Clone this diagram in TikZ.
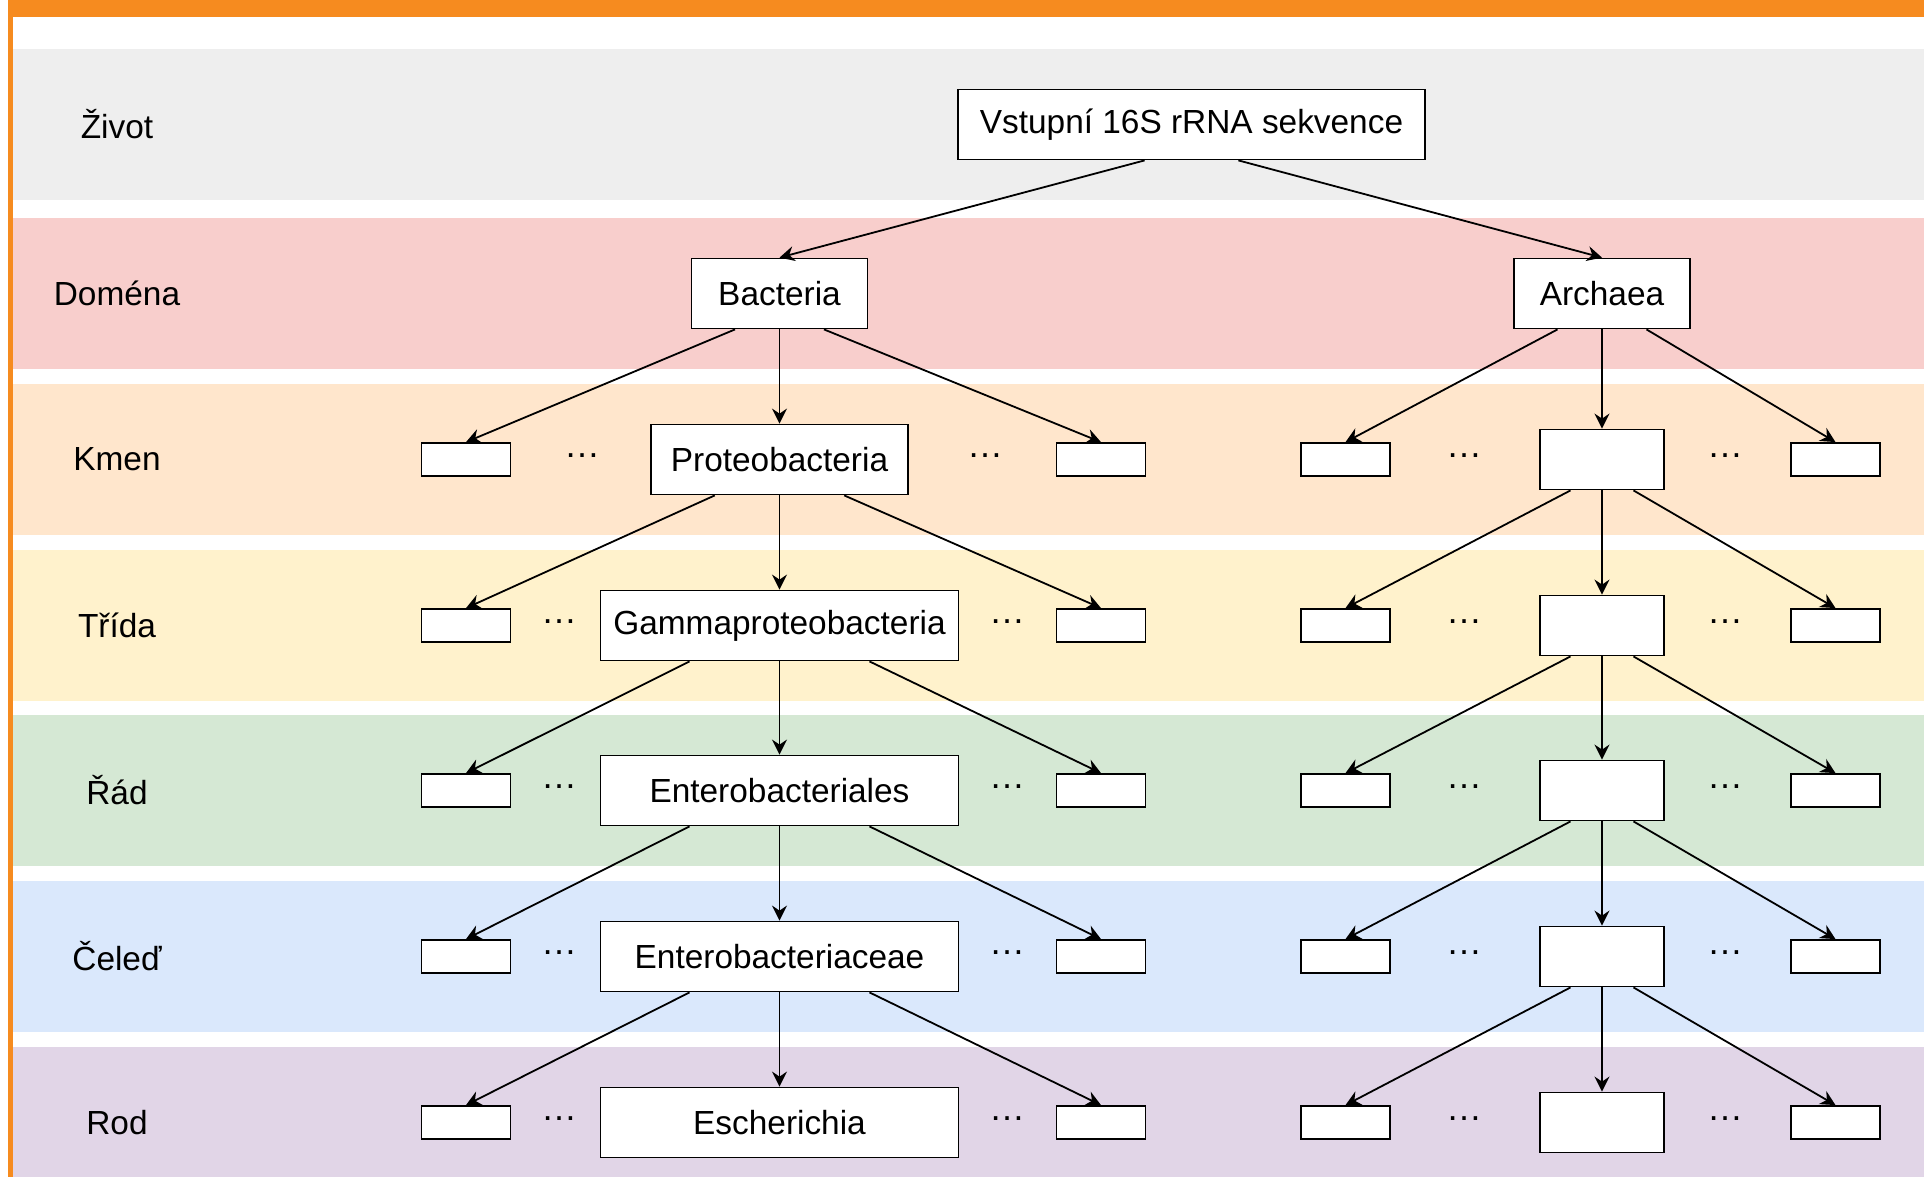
\documentclass[tikz,border=0pt]{standalone}
\usepackage{fontspec}
\setmainfont{Liberation Sans}
\usepackage{xcolor}
\usetikzlibrary{arrows.meta, calc, positioning}

\definecolor{frameorange}{HTML}{F68B1F}
\definecolor{bandgray}{HTML}{EEEEEE}
\definecolor{bandpink}{HTML}{F8CECC}
\definecolor{bandorange}{HTML}{FFE6CC}
\definecolor{bandyellow}{HTML}{FFF2CC}
\definecolor{bandgreen}{HTML}{D5E8D4}
\definecolor{bandblue}{HTML}{DAE8FC}
\definecolor{bandpurple}{HTML}{E1D5E7}

\begin{document}
\begin{tikzpicture}[x=0.5pt, y=-0.5pt, font=\fontsize{16.7}{20}\selectfont]
        % Styles
        \tikzstyle{block} = [rectangle, draw, fill=white, line width=0.9pt, minimum height=35pt, inner sep=0pt]
        \tikzstyle{leaf} = [block, minimum width=44.5pt, minimum height=16.5pt]
        \tikzstyle{hub} = [block, minimum width=62pt, minimum height=30pt]
        \tikzstyle{rank} = [anchor=center]
        \tikzstyle{gap} = [anchor=base, inner sep=0pt, yshift=1.25pt, font=\fontsize{18}{20}\selectfont]
        \tikzstyle{line} = [draw, line width=0.9pt, -{Stealth[length=7.5pt, width=7.5pt, inset=2.5pt]}]

        \useasboundingbox (0,0) rectangle (1924,1177);

        % Background
        \fill [frameorange] (8,0) rectangle (1924,17);
        \fill [frameorange] (8,0) rectangle (13,1177);
        \fill [bandgray] (13,49) rectangle (1924,200);
        \fill [bandpink] (13,218) rectangle (1924,369);
        \fill [bandorange] (13,384) rectangle (1924,535);
        \fill [bandyellow] (13,550) rectangle (1924,701);
        \fill [bandgreen] (13,715) rectangle (1924,866);
        \fill [bandblue] (13,881) rectangle (1924,1032);
        \fill [bandpurple] (13,1047) rectangle (1924,1177);

        % Ranks
        \node [rank] (lzivot) at (117,124.5) {Život};
        \node [rank] (ldomena) at (117,293.5) {Doména};
        \node [rank] (lkmen) at (117,459.5) {Kmen};
        \node [rank] (ltrida) at (117,625.5) {Třída};
        \node [rank] (lrad) at (117,790.5) {Řád};
        \node [rank] (lceled) at (117,956.5) {Čeleď};
        \node [rank] (lrod) at (117,1122.5) {Rod};

        % Nodes
        \node [block, minimum width=233.5pt] (input) at (1191.5,124.5) {Vstupní 16S rRNA sekvence};
        \node [block, minimum width=88pt] (bact) at (779.5,293.5) {Bacteria};
        \node [block, minimum width=88pt] (arch) at (1602,293.5) {Archaea};

        % Kmen
        \node [block, minimum width=128.5pt] (kmenB) at (779.5,459.5) {Proteobacteria};
        \node [leaf] (kmenBL) at (466,459.5) {};
        \node [leaf] (kmenBR) at (1101,459.5) {};
        \node [hub] (kmenA) at (1602,459.5) {};
        \node [leaf] (kmenAL) at (1345.5,459.5) {};
        \node [leaf] (kmenAR) at (1835.5,459.5) {};
        \node [gap] (kmenD1) at (582,459.5) {…};
        \node [gap] (kmenD2) at (985,459.5) {…};
        \node [gap] (kmenD3) at (1464,459.5) {…};
        \node [gap] (kmenD4) at (1725,459.5) {…};

        % Trida
        \node [block, minimum width=179pt] (tridaB) at (779.5,625.5) {Gammaproteobacteria};
        \node [leaf] (tridaBL) at (466,625.5) {};
        \node [leaf] (tridaBR) at (1101,625.5) {};
        \node [hub] (tridaA) at (1602,625.5) {};
        \node [leaf] (tridaAL) at (1345.5,625.5) {};
        \node [leaf] (tridaAR) at (1835.5,625.5) {};
        \node [gap] (tridaD1) at (559,625.5) {…};
        \node [gap] (tridaD2) at (1007,625.5) {…};
        \node [gap] (tridaD3) at (1464,625.5) {…};
        \node [gap] (tridaD4) at (1725,625.5) {…};

        % Rad
        \node [block, minimum width=179pt] (radB) at (779.5,790.5) {Enterobacteriales};
        \node [leaf] (radBL) at (466,790.5) {};
        \node [leaf] (radBR) at (1101,790.5) {};
        \node [hub] (radA) at (1602,790.5) {};
        \node [leaf] (radAL) at (1345.5,790.5) {};
        \node [leaf] (radAR) at (1835.5,790.5) {};
        \node [gap] (radD1) at (559,790.5) {…};
        \node [gap] (radD2) at (1007,790.5) {…};
        \node [gap] (radD3) at (1464,790.5) {…};
        \node [gap] (radD4) at (1725,790.5) {…};

        % Celed
        \node [block, minimum width=179pt] (celedB) at (779.5,956.5) {Enterobacteriaceae};
        \node [leaf] (celedBL) at (466,956.5) {};
        \node [leaf] (celedBR) at (1101,956.5) {};
        \node [hub] (celedA) at (1602,956.5) {};
        \node [leaf] (celedAL) at (1345.5,956.5) {};
        \node [leaf] (celedAR) at (1835.5,956.5) {};
        \node [gap] (celedD1) at (559,956.5) {…};
        \node [gap] (celedD2) at (1007,956.5) {…};
        \node [gap] (celedD3) at (1464,956.5) {…};
        \node [gap] (celedD4) at (1725,956.5) {…};

        % Rod
        \node [block, minimum width=179pt] (rodB) at (779.5,1122.5) {Escherichia};
        \node [leaf] (rodBL) at (466,1122.5) {};
        \node [leaf] (rodBR) at (1101,1122.5) {};
        \node [hub] (rodA) at (1602,1122.5) {};
        \node [leaf] (rodAL) at (1345.5,1122.5) {};
        \node [leaf] (rodAR) at (1835.5,1122.5) {};
        \node [gap] (rodD1) at (559,1122.5) {…};
        \node [gap] (rodD2) at (1007,1122.5) {…};
        \node [gap] (rodD3) at (1464,1122.5) {…};
        \node [gap] (rodD4) at (1725,1122.5) {…};

        % Paths
        \path [line] ($(input.south west)!.4!(input.south east)$) -- (bact.north);
        \path [line] ($(input.south west)!.6!(input.south east)$) -- (arch.north);

        \path [line] ($(bact.south west)!.25!(bact.south east)$) -- (kmenBL.north);
        \path [line] (bact) -- (kmenB);
        \path [line] ($(bact.south west)!.75!(bact.south east)$) -- (kmenBR.north);
        \path [line] ($(kmenB.south west)!.25!(kmenB.south east)$) -- (tridaBL.north);
        \path [line] (kmenB) -- (tridaB);
        \path [line] ($(kmenB.south west)!.75!(kmenB.south east)$) -- (tridaBR.north);
        \path [line] ($(tridaB.south west)!.25!(tridaB.south east)$) -- (radBL.north);
        \path [line] (tridaB) -- (radB);
        \path [line] ($(tridaB.south west)!.75!(tridaB.south east)$) -- (radBR.north);
        \path [line] ($(radB.south west)!.25!(radB.south east)$) -- (celedBL.north);
        \path [line] (radB) -- (celedB);
        \path [line] ($(radB.south west)!.75!(radB.south east)$) -- (celedBR.north);
        \path [line] ($(celedB.south west)!.25!(celedB.south east)$) -- (rodBL.north);
        \path [line] (celedB) -- (rodB);
        \path [line] ($(celedB.south west)!.75!(celedB.south east)$) -- (rodBR.north);

        \path [line] ($(arch.south west)!.25!(arch.south east)$) -- (kmenAL.north);
        \path [line] (arch) -- (kmenA);
        \path [line] ($(arch.south west)!.75!(arch.south east)$) -- (kmenAR.north);
        \path [line] ($(kmenA.south west)!.25!(kmenA.south east)$) -- (tridaAL.north);
        \path [line] (kmenA) -- (tridaA);
        \path [line] ($(kmenA.south west)!.75!(kmenA.south east)$) -- (tridaAR.north);
        \path [line] ($(tridaA.south west)!.25!(tridaA.south east)$) -- (radAL.north);
        \path [line] (tridaA) -- (radA);
        \path [line] ($(tridaA.south west)!.75!(tridaA.south east)$) -- (radAR.north);
        \path [line] ($(radA.south west)!.25!(radA.south east)$) -- (celedAL.north);
        \path [line] (radA) -- (celedA);
        \path [line] ($(radA.south west)!.75!(radA.south east)$) -- (celedAR.north);
        \path [line] ($(celedA.south west)!.25!(celedA.south east)$) -- (rodAL.north);
        \path [line] (celedA) -- (rodA);
        \path [line] ($(celedA.south west)!.75!(celedA.south east)$) -- (rodAR.north);
\end{tikzpicture}
\end{document}
